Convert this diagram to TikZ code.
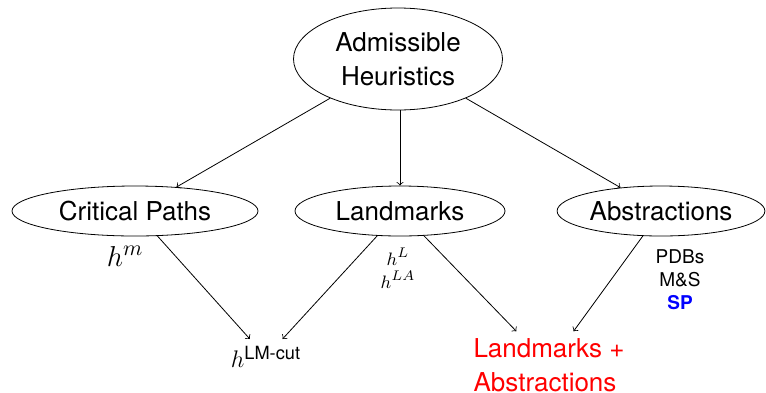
\documentclass[tikz,border=0pt]{standalone}
\usepackage{amsmath}
\usepackage{fontspec}
\setmainfont{TeX Gyre Heros}
\usepackage{tikz}
\usetikzlibrary{shapes.geometric}
\usepackage{xcolor}

\begin{document}
\begin{tikzpicture}[x=0.5pt,y=-0.5pt,
  classe/.style={ellipse,draw,inner sep=1pt,minimum height=25pt,font=\fontsize{13}{17}\selectfont},
  rotulo/.style={align=center,font=\fontsize{9.5}{11.5}\selectfont}]
\useasboundingbox (0,0) rectangle (766,392);
% Classes de heuristicas
\node[classe,align=center,minimum width=104.5pt,minimum height=51pt] (adm) at (398,59) {Admissible\\Heuristics};
\node[classe,minimum width=123pt] (cp) at (135,211) {Critical Paths};
\node[classe,minimum width=105pt] (lm) at (400,211) {Landmarks};
\node[classe,minimum width=103pt] (abs) at (661,211) {Abstractions};
% Exemplos
\node[font=\fontsize{15}{17}\selectfont] (hm) at (125,256) {$h^m$};
\node[rotulo] (hl) at (398,268) {$h^L$\\$h^{LA}$};
\node[rotulo] (pdb) at (680,280) {PDBs\\M\&S\\\textcolor{blue}{\textbf{SP}}};
\node[font=\fontsize{13}{17}\selectfont] (lmcut) at (266,357) {$h^{\text{LM-cut}}$};
\node[align=left,text=red,font=\fontsize{13}{17}\selectfont] (la) at (549,365) {Landmarks +\\Abstractions};
% Setas
\draw[->] (adm) -- (cp);
\draw[->] (adm.south -| lm.north) -- (lm);
\draw[->] (adm) -- (abs);
\draw[->] (cp) -- (lmcut);
\draw[->] (lm) -- (lmcut);
\draw[->] (lm) -- (la);
\draw[->] (abs) -- (la);
\end{tikzpicture}
\end{document}
